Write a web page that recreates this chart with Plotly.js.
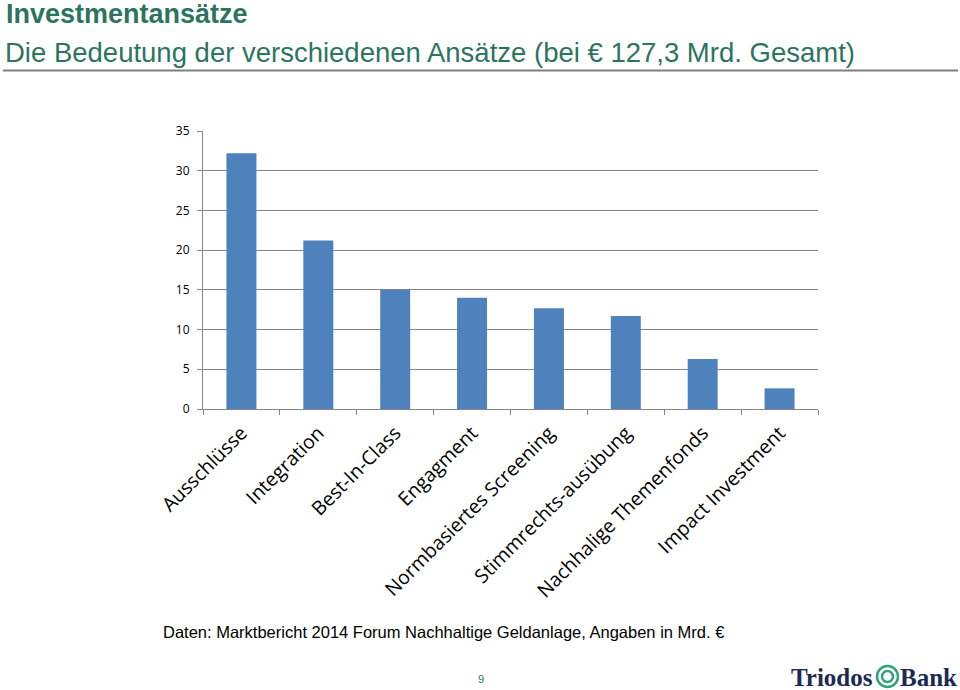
<!DOCTYPE html>
<html>
<head>
<meta charset="utf-8">
<script src="https://cdn.plot.ly/plotly-3.0.1.min.js"></script>
<style>html,body{margin:0;padding:0;background:#fff;}#chart{width:960px;height:690px;}</style>
</head>
<body>
<div id="chart"></div>
<script>
const categories = ["Ausschlüsse", "Integration", "Best-In-Class", "Engagment", "Normbasiertes Screening", "Stimmrechts-ausübung", "Nachhalige Themenfonds", "Impact Investment"];
const values = [32.2, 21.2, 15.0, 14.0, 12.7, 11.7, 6.3, 2.6];
const yTicks = [0, 5, 10, 15, 20, 25, 30, 35];

const L = 203, R = 818, T = 131, B = 409;
const px = x => (x - L) / (R - L);
const py = y => (B - y) / (B - T);
const green = "#2C7461";

const trace = {
  type: "bar",
  x: categories,
  y: values,
  marker: { color: "#4F81BD" },
  hoverinfo: "skip"
};

const layout = {
  width: 960, height: 690,
  margin: { l: L, r: 960 - R, t: T, b: 690 - B, pad: 0 },
  paper_bgcolor: "#fff", plot_bgcolor: "#fff",
  showlegend: false,
  bargap: 0.61,
  font: { family: "Open Sans, sans-serif", color: "#000" },
  xaxis: {
    type: "category",
    tickangle: -45,
    tickfont: { family: "Open Sans, sans-serif", size: 19.5, color: "#000" },
    ticklabelstandoff: 4,
    showline: true, linecolor: "#868686", linewidth: 1,
    ticks: "outside", tickson: "boundaries", ticklen: 5, tickcolor: "#868686",
    showgrid: false, fixedrange: true
  },
  yaxis: {
    range: [0, 35],
    tickvals: yTicks,
    ticktext: yTicks.map(String),
    tickfont: { family: "Open Sans, sans-serif", size: 12, color: "#000" },
    ticklabelstandoff: 5,
    showline: true, linecolor: "#868686", linewidth: 1,
    ticks: "outside", ticklen: 5, tickcolor: "#868686",
    showgrid: true, gridcolor: "#868686", gridwidth: 1,
    zeroline: false, fixedrange: true
  },
  shapes: [
    { type: "line", xref: "paper", yref: "paper", x0: px(3), x1: px(958), y0: py(70.5), y1: py(70.5),
      line: { color: "#7F7F7F", width: 2 } },
    { type: "circle", xref: "paper", yref: "paper", x0: px(877), x1: px(898), y0: py(666), y1: py(687),
      line: { color: "#2FA37C", width: 2.5 }, fillcolor: "#fff" },
    { type: "circle", xref: "paper", yref: "paper", x0: px(882), x1: px(893), y0: py(671), y1: py(682),
      line: { color: "#2FA37C", width: 2.5 }, fillcolor: "#fff" }
  ],
  annotations: [
    { text: "<b>Investmentansätze</b>", xref: "paper", yref: "paper", x: px(4), y: py(14),
      xanchor: "left", yanchor: "middle", showarrow: false,
      font: { family: "Liberation Sans, Arial, sans-serif", size: 27, color: green } },
    { text: "Die Bedeutung der verschiedenen Ansätze (bei € 127,3 Mrd. Gesamt)", xref: "paper", yref: "paper", x: px(3), y: py(52),
      xanchor: "left", yanchor: "middle", showarrow: false,
      font: { family: "Liberation Sans, Arial, sans-serif", size: 27.5, color: green } },
    { text: "Daten: Marktbericht 2014 Forum Nachhaltige Geldanlage, Angaben in Mrd. €", xref: "paper", yref: "paper", x: px(161), y: py(632),
      xanchor: "left", yanchor: "middle", showarrow: false,
      font: { family: "Liberation Sans, Arial, sans-serif", size: 16.5, color: "#000" } },
    { text: "9", xref: "paper", yref: "paper", x: px(481), y: py(679),
      xanchor: "center", yanchor: "middle", showarrow: false,
      font: { family: "Liberation Sans, Arial, sans-serif", size: 11, color: green } },
    { text: "<b>Triodos</b>", xref: "paper", yref: "paper", x: px(789), y: py(677),
      xanchor: "left", yanchor: "middle", showarrow: false,
      font: { family: "Liberation Serif, serif", size: 25, color: "#1B2A55" } },
    { text: "<b>Bank</b>", xref: "paper", yref: "paper", x: px(959), y: py(677),
      xanchor: "right", yanchor: "middle", showarrow: false,
      font: { family: "Liberation Serif, serif", size: 25, color: "#1B2A55" } }
  ]
};

Plotly.newPlot("chart", [trace], layout, { staticPlot: true, displayModeBar: false });
</script>
</body>
</html>
